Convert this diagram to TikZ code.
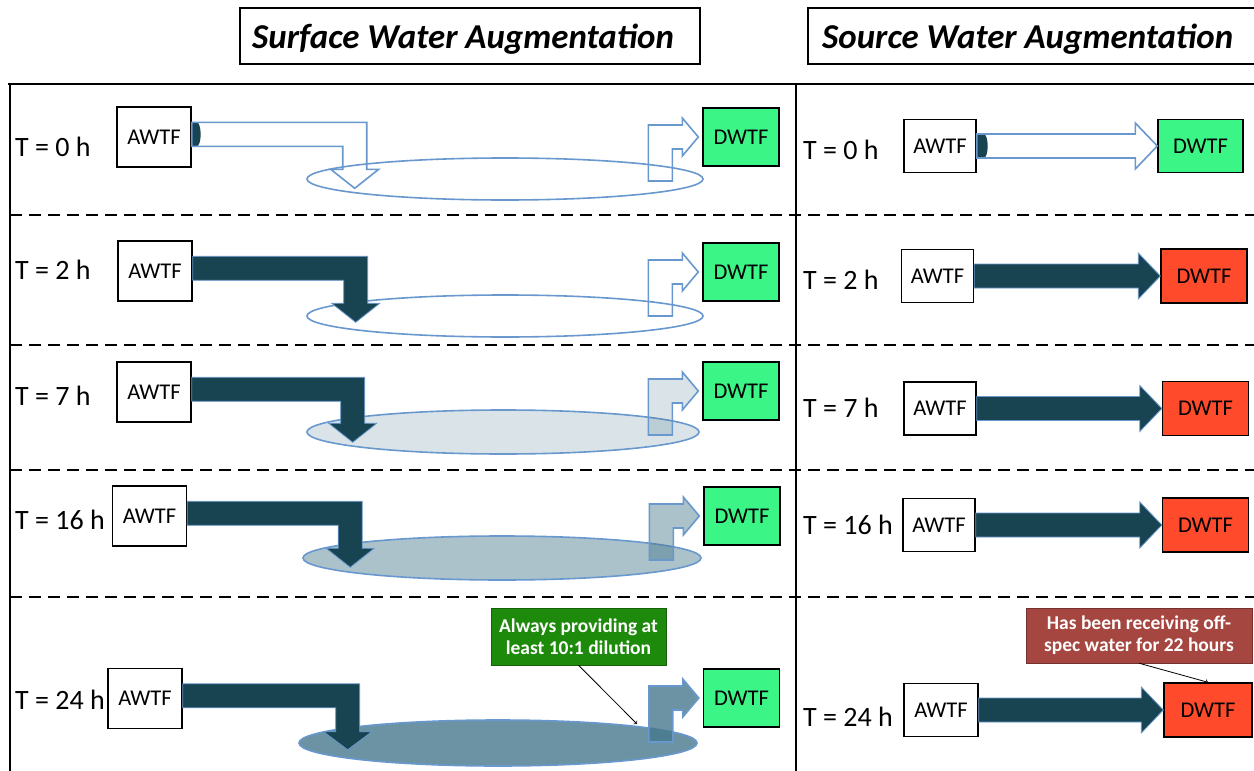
\documentclass[tikz,border=0pt]{standalone}
\usepackage{fontspec}
\setmainfont{Carlito}
\usetikzlibrary{positioning}
\usetikzlibrary{calc}
\definecolor{flowblue}{RGB}{104,152,206}
\definecolor{darkwater}{RGB}{24,68,82}
\definecolor{pondbase}{RGB}{70,120,140}
\definecolor{cleangreen}{RGB}{60,245,135}
\definecolor{offspecred}{RGB}{255,74,44}
\definecolor{notegreen}{RGB}{30,138,12}
\definecolor{notered}{RGB}{166,70,64}
\tikzset{plant/.style = {draw, line width=1.4pt, inner sep=0, minimum width=74,
                         minimum height=60, font=\fontsize{22.5}{26}\selectfont}}
\tikzset{clean/.style = {plant, fill=cleangreen, minimum width=76, minimum height=58}}
\tikzset{splant/.style = {plant, minimum width=72, minimum height=53}}
\tikzset{offspec/.style = {plant, fill=offspecred, minimum width=86, minimum height=54}}
\tikzset{hour/.style = {anchor=west, inner sep=0, font=\fontsize{28}{32}\selectfont}}
\tikzset{emptyflow/.style = {draw=flowblue, line width=1.6pt}}
\tikzset{fullflow/.style = {draw=flowblue, line width=0.8pt, fill=darkwater}}
\tikzset{pond/.style = {draw=flowblue, line width=1.6pt}}
\tikzset{murky/.style = {fill=pondbase, fill opacity=#1}}
\tikzset{note/.style = {draw=#1!70!black, fill=#1, text=white, align=center, inner sep=0,
                        font=\fontsize{19.5}{22}\selectfont\bfseries}}
\tikzset{grid/.style = {line width=2.4pt}}
\tikzset{title/.style = {anchor=west, inner sep=0, font=\fontsize{34.9}{40}\selectfont\bfseries\itshape}}

\begin{document}
\begin{tikzpicture}[x=1pt, y=-1pt]
      \useasboundingbox[fill=white] (0,0) rectangle (1254,771);

      % headings
      \draw[grid] (240,8) rectangle (700,64);
      \draw[grid] (808,8) rectangle (1260,64);
      \node[title] (surface) at (252,39) {Surface Water Augmentation};
      \node[title] (source) at (822,39) {Source Water Augmentation};

      % table
      \draw[grid] (8,84) -- (1256,84);
      \draw[grid] (10,84) -- (10,773);
      \draw[grid] (796,84) -- (796,773);
      \draw[grid, dash pattern=on 12pt off 7pt] (10,215) -- (1256,215);
      \draw[grid, dash pattern=on 12pt off 7pt] (10,345) -- (1256,345);
      \draw[grid, dash pattern=on 12pt off 7pt] (10,470) -- (1256,470);
      \draw[grid, dash pattern=on 12pt off 7pt] (10,597) -- (1256,597);

      % surface water, T = 0 h
      \node[hour] (t0) at (15,147) {T = 0 h};
      \node[plant] (awtf0) at (154,137) {AWTF};
      \node[clean] (dwtf0) at (741,137) {DWTF};
      \draw[pond] (505,179) ellipse [x radius=198, y radius=21];
      \fill[darkwater] ($(awtf0.north east)+(0,16)$) -- ++(5,0)
        arc[start angle=-90, end angle=90, x radius=4, y radius=12] -- ++(-5,0) -- cycle;
      \draw[emptyflow] (awtf0.north east) ++(0,16) -- ++(175,0) -- ++(0,47) -- ++(12,0)
        -- ++(-24,19) -- ++(-24,-19) -- ++(12,0) -- ++(0,-23) -- ++(-151,0) -- cycle;
      \draw[emptyflow] ($(dwtf0.west)+(-54,44)$) -- ++(0,-56) -- ++(34,0) -- ++(0,-7)
        -- ++(16,19) -- ++(-16,19) -- ++(0,-7) -- ++(-10,0) -- ++(0,32) -- cycle;

      % surface water, T = 2 h
      \node[hour] (t2) at (15,270) {T = 2 h};
      \node[plant] (awtf2) at (155,271) {AWTF};
      \node[clean] (dwtf2) at (741,272) {DWTF};
      \draw[pond] (505,316) ellipse [x radius=198, y radius=21];
      \draw[fullflow] (awtf2.north east) ++(0,16) -- ++(175,0) -- ++(0,47) -- ++(12,0)
        -- ++(-24,19) -- ++(-24,-19) -- ++(12,0) -- ++(0,-23) -- ++(-151,0) -- cycle;
      \draw[emptyflow] ($(dwtf2.west)+(-54,44)$) -- ++(0,-56) -- ++(34,0) -- ++(0,-7)
        -- ++(16,19) -- ++(-16,19) -- ++(0,-7) -- ++(-10,0) -- ++(0,32) -- cycle;

      % surface water, T = 7 h
      \node[hour] (t7) at (15,396) {T = 7 h};
      \node[plant] (awtf7) at (154,392) {AWTF};
      \node[clean] (dwtf7) at (741,391) {DWTF};
      \draw[pond, murky=0.2] (503,432) ellipse [x radius=196, y radius=22];
      \draw[fullflow] (awtf7.north east) ++(0,16) -- ++(173,0) -- ++(0,46) -- ++(12,0)
        -- ++(-24,19) -- ++(-24,-19) -- ++(12,0) -- ++(0,-22) -- ++(-149,0) -- cycle;
      \draw[emptyflow, murky=0.2] ($(dwtf7.west)+(-54,44)$) -- ++(0,-56) -- ++(34,0) -- ++(0,-7)
        -- ++(16,19) -- ++(-16,19) -- ++(0,-7) -- ++(-10,0) -- ++(0,32) -- cycle;

      % surface water, T = 16 h
      \node[hour] (t16) at (15,520) {T = 16 h};
      \node[plant] (awtf16) at (149.5,516) {AWTF};
      \node[clean] (dwtf16) at (742,516) {DWTF};
      \draw[pond, murky=0.45] (502,558) ellipse [x radius=199, y radius=22];
      \draw[fullflow] (awtf16.north east) ++(0,16) -- ++(175,0) -- ++(0,47) -- ++(12,0)
        -- ++(-24,19) -- ++(-24,-19) -- ++(12,0) -- ++(0,-23) -- ++(-151,0) -- cycle;
      \draw[emptyflow, murky=0.45] ($(dwtf16.west)+(-54,44)$) -- ++(0,-56) -- ++(34,0) -- ++(0,-7)
        -- ++(16,19) -- ++(-16,19) -- ++(0,-7) -- ++(-10,0) -- ++(0,32) -- cycle;

      % surface water, T = 24 h
      \node[hour] (t24) at (15,700) {T = 24 h};
      \node[plant] (awtf24) at (145,698.5) {AWTF};
      \node[clean] (dwtf24) at (741.5,698) {DWTF};
      \draw[pond, murky=0.8] (498,743) ellipse [x radius=199, y radius=23];
      \draw[fullflow] (awtf24.north east) ++(0,16) -- ++(177,0) -- ++(0,48) -- ++(12,0)
        -- ++(-24,18) -- ++(-24,-18) -- ++(12,0) -- ++(0,-24) -- ++(-153,0) -- cycle;
      \draw[emptyflow, murky=0.8] ($(dwtf24.west)+(-54,44)$) -- ++(0,-56) -- ++(34,0) -- ++(0,-7)
        -- ++(16,19) -- ++(-16,19) -- ++(0,-7) -- ++(-10,0) -- ++(0,32) -- cycle;
      \node[note=notegreen, minimum width=175, minimum height=57] (dilution) at (578.5,636.5)
        {Always providing at\\least 10:1 dilution};
      \coordinate (lake24) at (637,724);
      \draw[->, line width=0.8pt] (dilution.south) -- (lake24);

      % source water, T = 0 h
      \node[hour] (u0) at (803,150) {T = 0 h};
      \node[splant] (sawtf0) at (940,146) {AWTF};
      \node[clean, minimum width=85, minimum height=53] (sdwtf0) at (1200.5,146) {DWTF};
      \fill[darkwater] ($(sawtf0.east)+(0,-12)$) -- ++(7,0)
        arc[start angle=-90, end angle=90, x radius=4, y radius=12] -- ++(-7,0) -- cycle;
      \draw[emptyflow] (sawtf0.east) ++(0,-12) -- ($(sdwtf0.west)+(-22,-12)$) -- ++(0,-11)
        -- (sdwtf0.west) -- ++(-22,23) -- ++(0,-11) -- ($(sawtf0.east)+(0,12)$) -- cycle;

      % source water, T = 2 h
      \node[hour] (u2) at (803,280) {T = 2 h};
      \node[splant] (sawtf2) at (937.5,276) {AWTF};
      \node[offspec] (sdwtf2) at (1204,276) {DWTF};
      \draw[fullflow] (sawtf2.east) ++(0,-12) -- ($(sdwtf2.west)+(-22,-12)$) -- ++(0,-11)
        -- (sdwtf2.west) -- ++(-22,23) -- ++(0,-11) -- ($(sawtf2.east)+(0,12)$) -- cycle;

      % source water, T = 7 h
      \node[hour] (u7) at (803,408) {T = 7 h};
      \node[splant] (sawtf7) at (940,408.5) {AWTF};
      \node[offspec] (sdwtf7) at (1205.5,408.5) {DWTF};
      \draw[fullflow] (sawtf7.east) ++(0,-12) -- ($(sdwtf7.west)+(-22,-12)$) -- ++(0,-11)
        -- (sdwtf7.west) -- ++(-22,23) -- ++(0,-11) -- ($(sawtf7.east)+(0,12)$) -- cycle;

      % source water, T = 16 h
      \node[hour] (u16) at (803,525) {T = 16 h};
      \node[splant] (sawtf16) at (939,525) {AWTF};
      \node[offspec] (sdwtf16) at (1205.5,525) {DWTF};
      \draw[fullflow] (sawtf16.east) ++(0,-12) -- ($(sdwtf16.west)+(-22,-12)$) -- ++(0,-11)
        -- (sdwtf16.west) -- ++(-22,23) -- ++(0,-11) -- ($(sawtf16.east)+(0,12)$) -- cycle;

      % source water, T = 24 h
      \node[hour] (u24) at (803,717) {T = 24 h};
      \node[splant, minimum width=74] (sawtf24) at (941,710) {AWTF};
      \node[offspec, minimum width=88] (sdwtf24) at (1208,710) {DWTF};
      \draw[fullflow] (sawtf24.east) ++(0,-12) -- ($(sdwtf24.west)+(-22,-12)$) -- ++(0,-11)
        -- (sdwtf24.west) -- ++(-22,23) -- ++(0,-11) -- ($(sawtf24.east)+(0,12)$) -- cycle;
      \node[note=notered, minimum width=226, minimum height=55] (offspecnote) at (1139,635.5)
        {Has been receiving off-\\spec water for 22 hours};
      \draw[->, line width=0.8pt] (offspecnote.south) -- (sdwtf24.north);
\end{tikzpicture}
\end{document}
